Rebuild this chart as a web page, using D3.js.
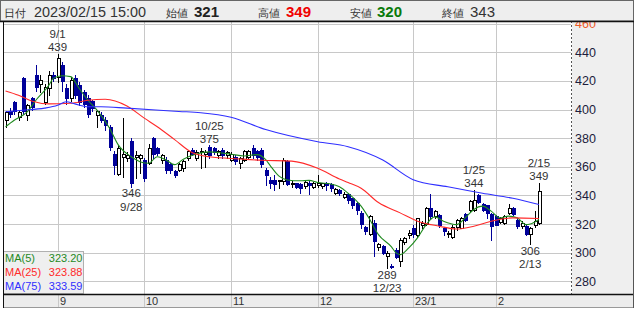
<!DOCTYPE html>
<html>
<head>
<meta charset="utf-8">
<script src="https://cdn.jsdelivr.net/npm/d3@7"></script>
<style>
body { margin: 0; background: #fff; }
svg { display: block; }
text { font-family: "Liberation Sans", Arial, sans-serif; }
</style>
</head>
<body>
<svg id="chart" width="635" height="309"></svg>
<script>
// trading days, 2022/08/16 - 2023/02/15
const dates = [
  "8/16","8/17","8/18","8/19","8/22","8/23","8/24","8/25","8/26","8/29","8/30","8/31",
  "9/1","9/2","9/5","9/6","9/7","9/8","9/9","9/12","9/13","9/14","9/15","9/16","9/20","9/21","9/22","9/26","9/27","9/28","9/29","9/30",
  "10/3","10/4","10/5","10/6","10/7","10/11","10/12","10/13","10/14","10/17","10/18","10/19","10/20","10/21","10/24","10/25","10/26","10/27","10/28","10/31",
  "11/1","11/2","11/4","11/7","11/8","11/9","11/10","11/11","11/14","11/15","11/16","11/17","11/18","11/21","11/22","11/24","11/25","11/28","11/29","11/30",
  "12/1","12/2","12/5","12/6","12/7","12/8","12/9","12/12","12/13","12/14","12/15","12/16","12/19","12/20","12/21","12/22","12/23","12/26","12/27","12/28","12/29","12/30",
  "1/4","1/5","1/6","1/10","1/11","1/12","1/13","1/16","1/17","1/18","1/19","1/20","1/23","1/24","1/25","1/26","1/27","1/30","1/31",
  "2/1","2/2","2/3","2/6","2/7","2/8","2/9","2/10","2/13","2/14","2/15"
];
const opens = [
  393,399,405,395,422,396,408,424,418,405,415,424,
  423,431,415,408,422,417,412,408,406,396,396,393,388,369,355,367,366,378,367,366,
  365,363,380,373,365,365,362,357,358,359,366,372,366,370,369,374,373,368,372,368,
  365,367,363,365,367,373,371,372,358,351,351,350,350,364,348,348.5,348,346.5,349,346,
  347,346.5,349,348,342,344,339,341,338,335,328,318,313,321,304,304.5,298,291,302,294,307.5,312,
  317,312,319,320,331,325.5,326,317,313,311,318,317.5,327,330,330,340,334,333,327,
  325.5,321.5,321,328,331,323,318.5,318.5,313,319,321
];
const highs = [
  399,401,406,400,423,404,409,431,424,418,427,426,
  439,433,418,423,424,419,414,410,407,400,398,395,389,371,375,394,370,380,371,369,
  366,376,381,374,369,367,363,358,363,365,372,373,372,373,372,375,374,372,373,371,
  370,368,367,372,372,375,372,373,359,353,354,351,366,365,350,349,349,350,350,349.5,
  354,349,349.5,348.5,345,344.5,342.5,341.5,338.5,335.5,329,318.5,326.5,323,307,305,301,292,303,310,311,316,
  319,324.5,322,332,341,330,327,318,315,319,323.5,325,328,337,344,341,334.5,333.5,328,
  326,325,326,334,332,324,322,319.5,318,329,349
];
const lows = [
  388,395,397,393,397,393,400,413,412,404,410,420,
  419,413,404,406,408,403,402,395,399,388,391,386,372,355,354,353,364,346,352,356,
  350,362,366,368,363,356,356,353,357,357,365,368,365,359,360,366,369,366,366,366,
  364,362,359,364,366,366,365,360,347,345.5,344,345.5,348,347,346,345,342,345,341,345,
  346,345,344,343,341,340,338,335,331,327,317,313,312,297.5,302,299,289,289.5,296,291,306,310,
  311,311,317,319,324,324,318,312,311,310,316,317,322,329,329,335,329,324.5,309,
  319,320.5,320,327,326,317,317,312,306,318,320
];
const closes = [
  398,397,399,398,399,403,402,416,421,416,424,422,
  436,420,408,421,410,405,404,397,401,399,393,389,374,361,373,369,368,349,368,368,
  352,373,369,369.5,368,358,358,354,362,364,371,369,370,371,370,368,370,371,368,370,
  369,364,366,371,371,368,367,362,354,348.5,348,351,365,348,349,346,345.5,349.5,347,349,
  349,348.5,347,345,344.5,341.5,341,337,333.5,330,320,315,325.5,308,306,299.5,299.5,290,297,309,310,314,
  313,324,321,331,325.5,329,319.5,315,313.5,318,323,324.5,323,336,337,335.5,330,328,318.5,
  319.5,324.5,325.5,331,327,318.5,321,313,317,322,343
];

// moving averages: [day index, value]
const ma5 = [[0,388],[2,392.5],[5,398.4],[7,406.5],[10,417],[11,421.8],[13,423.6],[15,423],[17,414.7],[19,406.5],[21,400],[24,387],[26,375.3],[29,367],[31,363.6],[33,362.5],[35,367],[37,364.8],[39,361.5],[41,365.3],[44,369],[47,370.4],[49,370],[52,368.8],[55,367.6],[58,368.5],[60,365],[61,361],[63,353.7],[65,350.8],[68,350.2],[70,350.5],[72,349],[75,348],[77,346],[79,341.5],[82,332.5],[84,323.2],[86,312.6],[89,304],[90,300],[91,298.6],[93,303.3],[95,310.3],[97,319.6],[99,325],[101,322],[104,319.6],[106,324.3],[108,330.2],[110,332.5],[112,329],[114,324.3],[116,325.5],[118,324.3],[120,319.6],[121,320],[123,323.2]];
const ma25 = [[0,413],[3,410],[6,406],[10,404],[15,404.4],[19,406.5],[23,407.2],[28,402.5],[32,394],[35,388],[39,379],[43,370],[47,367],[54,365.5],[59,364.6],[66,364],[72,359],[77,351.5],[79,349],[82,345],[86,335],[91,327.8],[95,322],[100,318.5],[104,316.5],[108,318.5],[112,322],[117,324.3],[123,323.9]];
const ma75 = [[0,398.5],[4,399.5],[9,401],[12,403],[14,405.5],[16,404],[19,402],[22,402],[28,401],[40,398.7],[45,397.8],[52,394.6],[60,386],[72,377.5],[79,374],[87,364.7],[94,351],[102,346],[110,341.5],[117,338],[123,333.6]];

const maNames = ["MA(5)", "MA(25)", "MA(75)"];
const maLast = ["323.20", "323.88", "333.59"];
const maColors = ["#1f8a1f", "#ff2a2a", "#2f2fff"];

const yTicks = [280, 300, 320, 340, 360, 380, 400, 420, 440, 460];
const monthTicks = ["9/1", "10/3", "11/1", "12/1", "1/4", "2/1"];
const monthLabels = ["9", "10", "11", "12", "23/1", "2"];

// highs / lows marked on the chart
const marks = ["9/1", "9/28", "10/25", "12/23", "1/25", "2/13", "2/15"];
const markSide = ["hi", "lo", "hi", "lo", "hi", "lo", "hi"];

const headerNames = ["始値", "高値", "安値", "終値"];

const svg = d3.select("#chart");
const L = 4, R = 571, T = 21, B = 294;
const navy = "#000099";

const x = d3.scaleLinear().domain([-0.35, 130.4]).range([L, R]);
const y = d3.scaleLinear().domain([271.1, 461.9]).range([B, T]);
const xi = d => x(dates.indexOf(d));

svg.append("rect").attr("width", 635).attr("height", 309).attr("fill", "#fff");

// right axis panel and bottom band
svg.append("rect").attr("x", 572).attr("y", T).attr("width", 61).attr("height", B - T).attr("fill", "#efefef");
svg.append("rect").attr("x", 3).attr("y", B).attr("width", 630).attr("height", 13).attr("fill", "#ececec");

// grid
const grid = svg.append("g").attr("stroke", "#c8c8c8").attr("stroke-width", 1);
yTicks.forEach(v => {
  const yy = Math.round(y(v)) + 0.5;
  grid.append("line").attr("x1", L).attr("x2", R).attr("y1", yy).attr("y2", yy);
});
monthTicks.forEach(d => {
  const xx = Math.round(xi(d)) + 0.5;
  grid.append("line").attr("x1", xx).attr("x2", xx).attr("y1", T).attr("y2", 307);
});

svg.append("defs").append("clipPath").attr("id", "plot")
  .append("rect").attr("x", L).attr("y", T).attr("width", R - L).attr("height", B - T);

// candles
const cg = svg.append("g").attr("clip-path", "url(#plot)");
dates.forEach((d, i) => {
  const o = opens[i], h = highs[i], l = lows[i], c = closes[i];
  const up = c >= o;
  const cx = Math.round(x(i));
  const col = up ? "#000" : navy;
  cg.append("line")
    .attr("x1", cx + 0.5).attr("x2", cx + 0.5)
    .attr("y1", Math.round(y(h))).attr("y2", Math.round(y(l)) + 1)
    .attr("stroke", col);
  const yt = Math.round(y(Math.max(o, c)));
  const yb = Math.round(y(Math.min(o, c)));
  if (up) {
    cg.append("rect")
      .attr("x", cx - 0.5).attr("y", yt + 0.5)
      .attr("width", 3).attr("height", Math.max(1, yb - yt))
      .attr("fill", "#fff").attr("stroke", "#000");
  } else {
    cg.append("rect")
      .attr("x", cx - 1).attr("y", yt)
      .attr("width", 4).attr("height", Math.max(1, yb - yt + 1))
      .attr("fill", navy);
  }
});

// moving average lines
const line = d3.line().x(d => x(d[0])).y(d => y(d[1])).curve(d3.curveMonotoneX);
[ma5, ma25, ma75].forEach((m, k) => {
  cg.append("path").attr("d", line(m))
    .attr("fill", "none").attr("stroke", maColors[k]).attr("stroke-width", 1.1);
});

// high / low notes
marks.forEach((d, k) => {
  const i = dates.indexOf(d);
  const cx = x(i);
  const g = svg.append("g").attr("font-size", 11.5).attr("fill", "#333").attr("text-anchor", "middle");
  if (markSide[k] === "hi") {
    const yy = y(highs[i]);
    g.append("text").attr("x", cx).attr("y", yy - 15.5).text(d);
    g.append("text").attr("x", cx).attr("y", yy - 2.3).text(highs[i]);
  } else {
    const yy = y(lows[i]);
    g.append("text").attr("x", cx).attr("y", yy + 10.5).text(lows[i]);
    g.append("text").attr("x", cx).attr("y", yy + 23.7).text(d);
  }
});

// legend box
svg.append("rect").attr("x", 3.5).attr("y", 251.5).attr("width", 80).attr("height", 42)
  .attr("fill", "#efefef").attr("stroke", "#b0b0b0");
maNames.forEach((n, k) => {
  const yy = 262 + k * 14.2;
  svg.append("text").attr("x", 5).attr("y", yy).attr("font-size", 11).attr("fill", maColors[k]).text(n);
  svg.append("text").attr("x", 82.5).attr("y", yy).attr("font-size", 11).attr("fill", maColors[k])
    .attr("text-anchor", "end").text(maLast[k]);
});

// price axis
svg.append("line").attr("x1", 571.5).attr("x2", 571.5).attr("y1", T).attr("y2", B)
  .attr("stroke", "#555").attr("stroke-dasharray", "2,2");
yTicks.forEach((v, k) => {
  svg.append("text").attr("x", 575).attr("y", y(v)).attr("dy", "0.36em")
    .attr("font-size", 12.5).attr("fill", k === yTicks.length - 1 ? "#f05a28" : "#1c1c3c").text(v);
});

// month labels
monthTicks.forEach((d, k) => {
  svg.append("text").attr("x", Math.round(xi(d)) + 2).attr("y", 304.5)
    .attr("font-size", 11).attr("fill", "#333").text(monthLabels[k]);
});

// frame
svg.append("line").attr("x1", 3).attr("x2", 634).attr("y1", 294.5).attr("y2", 294.5).attr("stroke", "#111").attr("stroke-width", 1.5);
svg.append("line").attr("x1", 3).attr("x2", 634).attr("y1", 307.5).attr("y2", 307.5).attr("stroke", "#999");
svg.append("line").attr("x1", 3.5).attr("x2", 3.5).attr("y1", 0).attr("y2", 308).attr("stroke", "#111");
svg.append("line").attr("x1", 633.5).attr("x2", 633.5).attr("y1", 0).attr("y2", 308).attr("stroke", "#555");

// header
const last = dates.length - 1;
svg.append("rect").attr("x", 0.5).attr("y", 0.5).attr("width", 633).attr("height", 20.5)
  .attr("fill", "#eeeeee").attr("stroke", "#666");
svg.append("line").attr("x1", 0).attr("x2", 634).attr("y1", 21.5).attr("y2", 21.5).attr("stroke", "#111").attr("stroke-width", 1.5);
const hy = 16.5;
const cjk = '"Noto Sans CJK JP", sans-serif';
svg.append("text").attr("x", 4).attr("y", hy).attr("font-family", cjk).attr("font-size", 11).attr("fill", "#333").text("日付");
svg.append("text").attr("x", 34).attr("y", hy).attr("font-family", '"DejaVu Sans", sans-serif').attr("font-size", 14.4).attr("fill", "#333").text("2023/02/15 15:00");
const hVals = [opens[last], highs[last], lows[last], closes[last]];
const hNameX = [166, 258, 350, 442];
const hValX = [194, 286, 377, 470];
const hCol = ["#222", "#f00000", "#0a7a0a", "#333"];
const hWeight = ["bold", "bold", "bold", "normal"];
headerNames.forEach((n, k) => {
  svg.append("text").attr("x", hNameX[k]).attr("y", hy).attr("font-family", cjk).attr("font-size", 11).attr("fill", "#333").text(n);
  svg.append("text").attr("x", hValX[k]).attr("y", hy).attr("font-size", 15)
    .attr("font-weight", hWeight[k]).attr("fill", hCol[k]).text(hVals[k]);
});
</script>
</body>
</html>
